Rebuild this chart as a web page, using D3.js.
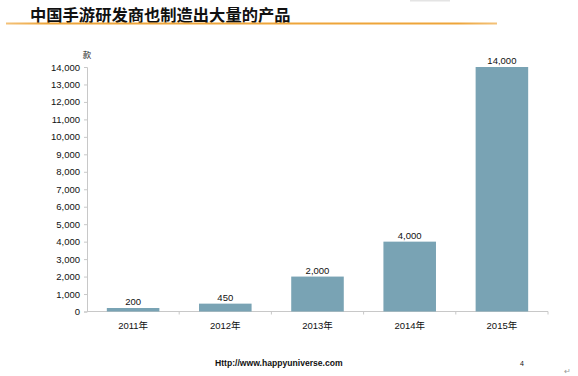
<!DOCTYPE html>
<html>
<head>
<meta charset="utf-8">
<script src="https://cdn.jsdelivr.net/npm/d3@7"></script>
<style>
  body { margin: 0; background: #fff; }
  text { font-family: "Liberation Sans", Arial, "Noto Sans CJK SC", sans-serif; }
</style>
</head>
<body>
<div id="chart"></div>
<script>
// data
const years = ["2011年", "2012年", "2013年", "2014年", "2015年"];
const counts = [200, 450, 2000, 4000, 14000];
const yTicks = d3.range(0, 14001, 1000);

const W = 578, H = 376;
const margin = { top: 67, left: 87, right: 30, bottom: 64.5 };

const svg = d3.select("#chart").append("svg")
  .attr("width", W).attr("height", H);

// title + orange rule
svg.append("text")
  .attr("x", 30).attr("y", 21)
  .style("font-family", "'Noto Sans CJK SC', sans-serif")
  .style("font-size", "16.3px").style("font-weight", "bold")
  .attr("fill", "#111")
  .text("中国手游研发商也制造出大量的产品");

const grad = svg.append("defs").append("linearGradient").attr("id", "rule");
grad.append("stop").attr("offset", "0%").attr("stop-color", "#f3c27a");
grad.append("stop").attr("offset", "8%").attr("stop-color", "#eea53a");
grad.append("stop").attr("offset", "92%").attr("stop-color", "#eea53a");
grad.append("stop").attr("offset", "100%").attr("stop-color", "#f3c27a");
svg.append("rect").attr("x", 6).attr("y", 22.5).attr("width", 491).attr("height", 2)
  .attr("fill", "url(#rule)");

// small grey box at the top right edge
svg.append("rect").attr("x", 410).attr("y", 0).attr("width", 40).attr("height", 1.5)
  .attr("fill", "#e4e4e4");

const x = d3.scaleBand()
  .domain(years)
  .range([margin.left, W - margin.right])
  .paddingInner(0.43).paddingOuter(0.215);

const y = d3.scaleLinear()
  .domain([0, 14000])
  .range([H - margin.bottom, margin.top]);

const fmt = d3.format(",");

// y axis
const yAxis = svg.append("g")
  .attr("transform", `translate(${margin.left},0)`)
  .call(d3.axisLeft(y).tickValues(yTicks).tickFormat(fmt).tickSize(3).tickPadding(4));
yAxis.select(".domain").attr("stroke", "#c8c8c8");
yAxis.selectAll(".tick line").attr("stroke", "#c8c8c8");
yAxis.selectAll(".tick text").attr("fill", "#111").style("font-size", "9.5px");

svg.append("text")
  .attr("x", margin.left).attr("y", 58)
  .attr("text-anchor", "middle")
  .style("font-family", "'Noto Sans CJK SC', sans-serif")
  .style("font-size", "8.5px").attr("fill", "#111")
  .text("款");

// x axis with ticks between categories
const x0 = H - margin.bottom;
const xAxis = svg.append("g").attr("transform", `translate(0,${x0})`);
xAxis.append("line")
  .attr("x1", margin.left).attr("x2", W - margin.right)
  .attr("stroke", "#c8c8c8");
const step = x.step();
xAxis.selectAll(".sep").data(years).enter().append("line")
  .attr("x1", (d) => x(d) - step * 0.215 + step)
  .attr("x2", (d) => x(d) - step * 0.215 + step)
  .attr("y1", 0).attr("y2", 3)
  .attr("stroke", "#c8c8c8");
xAxis.selectAll(".lbl").data(years).enter().append("text")
  .attr("x", (d) => x(d) + x.bandwidth() / 2)
  .attr("y", 17)
  .attr("text-anchor", "middle")
  .style("font-size", "9.5px").attr("fill", "#111")
  .text((d) => d);

// bars
svg.selectAll(".bar").data(counts).enter().append("rect")
  .attr("x", (d, i) => x(years[i]))
  .attr("y", (d) => y(d))
  .attr("width", x.bandwidth())
  .attr("height", (d) => y(0) - y(d))
  .attr("fill", "#79a3b4");

svg.selectAll(".val").data(counts).enter().append("text")
  .attr("x", (d, i) => x(years[i]) + x.bandwidth() / 2)
  .attr("y", (d) => y(d) - 3)
  .attr("text-anchor", "middle")
  .style("font-size", "9.5px").attr("fill", "#111")
  .text((d) => fmt(d));

// footer
svg.append("text")
  .attr("x", 215).attr("y", 366)
  .style("font-size", "8.6px").style("font-weight", "bold").attr("fill", "#111")
  .text("Http://www.happyuniverse.com");
svg.append("text")
  .attr("x", 520).attr("y", 366)
  .style("font-size", "7px").attr("fill", "#111")
  .text("4");
svg.append("text")
  .attr("x", 564).attr("y", 374)
  .style("font-size", "8px").attr("fill", "#999")
  .text("↵");
</script>
</body>
</html>
